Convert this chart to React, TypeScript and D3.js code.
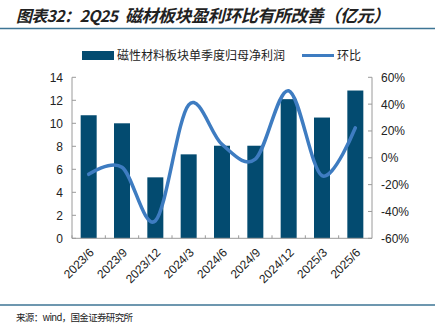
import React from "react";
import * as d3 from "d3";

const categories = ["2023/6", "2023/9", "2023/12", "2024/3", "2024/6", "2024/9", "2024/12", "2025/3", "2025/6"];
const profit = [10.7, 10.0, 5.3, 7.3, 8.05, 8.05, 12.1, 10.5, 12.85];
const qoq = [-12.3, -7, -47, 39.5, 10, -1, 50, -13.3, 22.4];
const leftTicks = [0, 2, 4, 6, 8, 10, 12, 14];
const rightTicks = [-60, -40, -20, 0, 20, 40, 60];

const W = 435, H = 329;
const X0 = 72, X1 = 372, Y0 = 238.3, Y1 = 77.3;
const BAR = "#034b70";
const LINE = "#3e7cc1";
const AXIS = "#9a9a9a";
const FONT = "'Liberation Sans', Arial, sans-serif";
const CJK = "'Noto Sans CJK SC', sans-serif";

export default function App() {
  const x = d3.scaleBand().domain(categories).range([X0, X1]).paddingInner(0.52).paddingOuter(0.26);
  const xb = d3.scaleBand().domain(categories).range([X0, X1]);
  const yl = d3.scaleLinear().domain([0, 14]).range([Y0, Y1]);
  const yr = d3.scaleLinear().domain([-60, 60]).range([Y0, Y1]);
  const line = d3
    .line<number>()
    .x((_, i) => (xb(categories[i]) as number) + xb.bandwidth() / 2)
    .y((d) => yr(d))
    .curve(d3.curveCardinal.tension(0));

  return (
    <svg width={W} height={H} style={{ position: "absolute", left: 0, top: 0, background: "#fff" }}>
      <g fontFamily={CJK} fontWeight="bold" fontStyle="italic" fill="#222">
        <text x={16} y={22} fontSize={16} textLength={102} lengthAdjust="spacing">图表32：2Q25</text>
        <text x={125} y={22} fontSize={17} textLength={265} lengthAdjust="spacing">磁材板块盈利环比有所改善（亿元）</text>
      </g>
      <line x1={0} x2={W} y1={28.5} y2={28.5} stroke="#3d7595" strokeWidth={1.5} />

      {/* legend */}
      <rect x={82} y={51} width={32} height={9} fill={BAR} />
      <text x={117} y={60} fontFamily={CJK} fontSize={12} fill="#222">磁性材料板块单季度归母净利润</text>
      <line x1={302} x2={334} y1={55.5} y2={55.5} stroke={LINE} strokeWidth={3} />
      <text x={337} y={60} fontFamily={CJK} fontSize={12} fill="#222">环比</text>

      {/* bars */}
      {profit.map((v, i) => (
        <rect key={i} x={x(categories[i])} y={yl(v)} width={x.bandwidth()} height={Y0 - yl(v)} fill={BAR} />
      ))}

      {/* axes */}
      <line x1={X0} x2={X0} y1={Y1} y2={Y0} stroke={AXIS} />
      <line x1={X1} x2={X1} y1={Y1} y2={Y0} stroke={AXIS} />
      <line x1={X0} x2={X1} y1={Y0} y2={Y0} stroke={AXIS} />
      {leftTicks.map((t) => (
        <g key={t}>
          <line x1={X0} x2={X0 + 4} y1={yl(t)} y2={yl(t)} stroke={AXIS} />
          <text x={63} y={yl(t) + 4.5} textAnchor="end" fontFamily={FONT} fontSize={12} fill="#222">{t}</text>
        </g>
      ))}
      {rightTicks.map((t) => (
        <g key={t}>
          <line x1={X1 - 4} x2={X1} y1={yr(t)} y2={yr(t)} stroke={AXIS} />
          <text x={381} y={yr(t) + 4.5} fontFamily={FONT} fontSize={12} fill="#222">{t}%</text>
        </g>
      ))}
      {categories.map((c, i) => (
        <line key={i} x1={(xb(c) as number)} x2={(xb(c) as number)} y1={Y0} y2={Y0 - 3} stroke={AXIS} />
      ))}
      {categories.map((c) => {
        const cx = (xb(c) as number) + xb.bandwidth() / 2;
        return (
          <text key={c} transform={`translate(${cx + 6},${Y0 + 15}) rotate(-45)`} textAnchor="end" fontFamily={FONT} fontSize={12} fill="#222">
            {c}
          </text>
        );
      })}

      {/* line */}
      <path d={line(qoq) || ""} fill="none" stroke={LINE} strokeWidth={3.5} strokeLinecap="round" />

      <line x1={0} x2={W} y1={305} y2={305} stroke="#3d7595" strokeWidth={1.5} />
      <text x={16} y={321} fontFamily={CJK} fontSize={9.5} fill="#222" textLength={117} lengthAdjust="spacing">来源：wind，国金证券研究所</text>
    </svg>
  );
}
